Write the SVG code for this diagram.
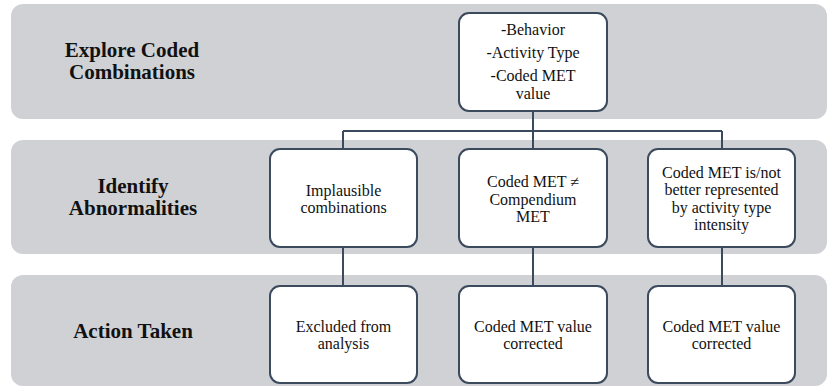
<svg xmlns="http://www.w3.org/2000/svg" width="830" height="387" viewBox="0 0 830 387">
<style>
.band{fill:#d0d1d5;}
.node{fill:#ffffff;stroke:#3b4a5d;stroke-width:2;}
.conn{stroke:#3b4a5d;stroke-width:2;fill:none;}
text{font-family:'Liberation Serif','DejaVu Serif','Times New Roman',Times,serif;fill:#111;text-anchor:middle;}
.lab{font-weight:bold;font-size:21px;}
.txt{font-size:16px;}
</style>
<rect width="830" height="387" fill="#ffffff"/>
<g id="band-explore">
<rect class="band" x="11" y="4" width="816" height="115" rx="12"/>
<text class="lab" x="132" y="57">Explore Coded</text>
<text class="lab" x="132" y="79">Combinations</text>
</g>
<g id="band-identify">
<rect class="band" x="11" y="140" width="816" height="114" rx="12"/>
<text class="lab" x="133" y="193">Identify</text>
<text class="lab" x="133" y="215">Abnormalities</text>
</g>
<g id="band-action">
<rect class="band" x="11" y="275" width="816" height="111" rx="12"/>
<text class="lab" x="133" y="338">Action Taken</text>
</g>
<g id="connectors">
<path class="conn" d="M533,111 V131"/>
<path class="conn" d="M343,131 H722"/>
<path class="conn" d="M343,131 V149 M533,131 V149 M722,131 V149"/>
<path class="conn" d="M343,247 V286 M533,247 V286 M722,247 V286"/>
</g>
<g id="node-top">
<rect class="node" x="459" y="13" width="148" height="98" rx="10"/>
<text class="txt" x="533" y="35">-Behavior</text>
<text class="txt" x="533" y="58">-Activity Type</text>
<text class="txt" x="533" y="81">-Coded MET</text>
<text class="txt" x="533" y="98.5">value</text>
</g>
<g id="node-implausible">
<rect class="node" x="270" y="149" width="147" height="98" rx="10"/>
<text class="txt" x="343.5" y="195.5">Implausible</text>
<text class="txt" x="343.5" y="213">combinations</text>
</g>
<g id="node-compendium">
<rect class="node" x="459" y="149" width="148" height="98" rx="10"/>
<text class="txt" x="533" y="187">Coded MET ≠</text>
<text class="txt" x="533" y="204.5">Compendium</text>
<text class="txt" x="533" y="222">MET</text>
</g>
<g id="node-intensity">
<rect class="node" x="648" y="149" width="147" height="98" rx="10"/>
<text class="txt" x="721.5" y="177.5">Coded MET is/not</text>
<text class="txt" x="721.5" y="195">better represented</text>
<text class="txt" x="721.5" y="212.5">by activity type</text>
<text class="txt" x="721.5" y="230">intensity</text>
</g>
<g id="node-excluded">
<rect class="node" x="270" y="286" width="147" height="97" rx="10"/>
<text class="txt" x="343.5" y="331.5">Excluded from</text>
<text class="txt" x="343.5" y="349">analysis</text>
</g>
<g id="node-corrected1">
<rect class="node" x="459" y="286" width="148" height="97" rx="10"/>
<text class="txt" x="533" y="331.5">Coded MET value</text>
<text class="txt" x="533" y="349">corrected</text>
</g>
<g id="node-corrected2">
<rect class="node" x="648" y="286" width="147" height="97" rx="10"/>
<text class="txt" x="721.5" y="331.5">Coded MET value</text>
<text class="txt" x="721.5" y="349">corrected</text>
</g>
</svg>
